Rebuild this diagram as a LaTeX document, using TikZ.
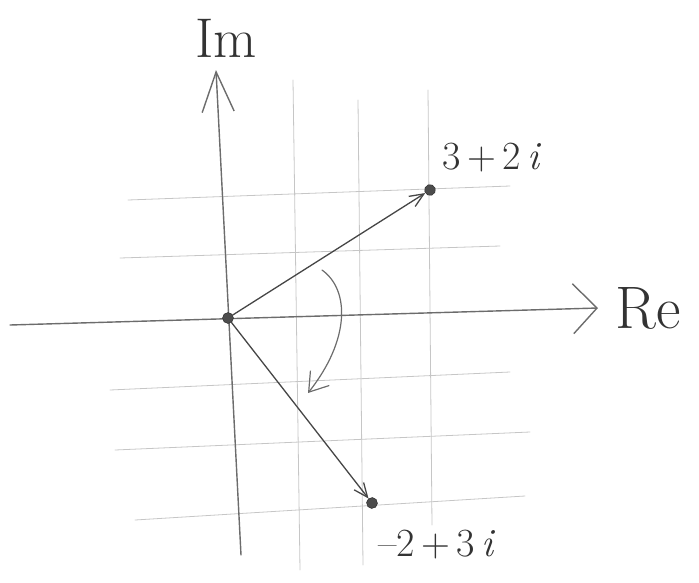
\documentclass[tikz,border=0pt]{standalone}
\usepackage{tikz}
\usetikzlibrary{arrows.meta, calc, positioning}

\begin{document}
\begin{tikzpicture}[x=1pt, y=-1pt, line cap=round,
    gridline/.style={gray!45, line width=0.8pt},
    axis/.style={gray!85!black, line width=1.4pt},
    vec/.style={gray!55!black, line width=1.3pt, -{Straight Barb[length=14pt, width=12pt]}},
    dot/.style={circle, fill=gray!60!black, draw=gray!30!black, inner sep=0pt, minimum width=9pt, minimum height=11pt},
    lbl/.style={text=gray!40!black, font=\fontsize{40}{40}\selectfont}]
  \useasboundingbox (0,0) rectangle (699,582);
  % grid
  \draw[gridline] (293,80) -- (300,570);
  \draw[gridline] (358,100) -- (363,565);
  \draw[gridline] (428,90) -- (432,525);
  \draw[gridline] (128,200) -- (510,186);
  \draw[gridline] (120,258) -- (500,246);
  \draw[gridline] (110,390) -- (510,372);
  \draw[gridline] (115,450) -- (530,432);
  \draw[gridline] (135,520) -- (525,496);
  % axes
  \coordinate (rex) at (598,308);
  \coordinate (imy) at (216,70);
  \draw[axis, -{Straight Barb[length=24pt, width=50pt]}] (10,325) -- (rex);
  \draw[axis, -{Straight Barb[length=40pt, width=32pt]}] (241,555) -- (imy);
  \node[lbl, font=\fontsize{60}{60}\selectfont, right=14pt of rex] (re) {Re};
  \node[lbl, font=\fontsize{56}{56}\selectfont] (im) at (226,38) {Im};
  % points
  \node[dot] (O) at (228,318) {};
  \node[dot, rotate=20] (P) at (430,190) {};
  \node[dot, rotate=40] (Q) at (372,503) {};
  \draw[vec] (O) -- (P);
  \draw[vec] (O) -- (Q);
  \node[lbl] (pl) at (492,158) {3\,+\,2\,\textit{i}};
  \node[lbl] (ql) at (437,545) {\textendash2\,+\,3\,\textit{i}};
  % rotation
  \coordinate (rs) at (322,270);
  \coordinate (re2) at (308,393);
  \draw[axis, line width=1.2pt, -{Straight Barb[length=18pt, width=24pt]}]
    (rs) .. controls (350,290) and (350,340) .. (re2);
\end{tikzpicture}
\end{document}
